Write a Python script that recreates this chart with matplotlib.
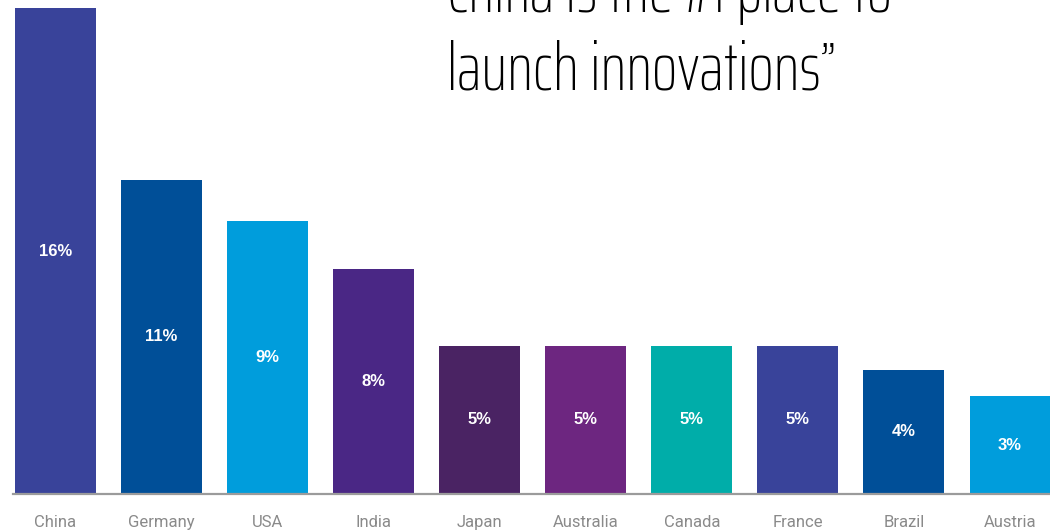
import matplotlib
matplotlib.use("Agg")
import matplotlib.pyplot as plt

countries = ["China", "Germany", "USA", "India", "Japan", "Australia",
             "Canada", "France", "Brazil", "Austria"]
shares = [16.4, 10.6, 9.2, 7.6, 5.0, 5.0, 5.0, 5.0, 4.2, 3.3]
colors = ["#39439A", "#004F98", "#009DDC", "#4A2785", "#4A2363", "#6D2680",
          "#00ADA9", "#39439A", "#004F98", "#009DDC"]
title_lines = ["China is the #1 place to", "launch innovations\u201d"]

W, H = 1050, 531
fig = plt.figure(figsize=(W / 100, H / 100), dpi=100)
fig.patch.set_facecolor("white")

left_px, base_px = 13, 494
ax = fig.add_axes([left_px / W, 1 - base_px / H, 1037 / W, base_px / H])
x = list(range(len(countries)))
bars = ax.bar(x, shares, width=0.764, color=colors, zorder=2)
ax.set_xlim(-0.4007, 9.377)
ax.set_ylim(0, 16.4 * 494 / 486)

for rect, v in zip(bars, shares):
    ax.text(rect.get_x() + rect.get_width() / 2, v / 2, f"{round(v):.0f}%",
            ha="center", va="center", color="white", fontsize=12,
            fontweight="bold", family=["Liberation Sans", "DejaVu Sans"], zorder=3)

ax.set_xticks(x)
ax.set_xticklabels(countries, fontsize=12, color="#8A8A8A",
                   family=["Roboto", "DejaVu Sans"])
ax.tick_params(axis="x", length=0, pad=15)
ax.set_yticks([])
for s in ["top", "right", "left"]:
    ax.spines[s].set_visible(False)
ax.spines["bottom"].set_color("#9B9B9B")
ax.spines["bottom"].set_linewidth(1.6)
ax.spines["bottom"].set_zorder(4)
ax.set_facecolor("none")

tfont = dict(family=["Saira ExtraCondensed", "IBM Plex Sans Condensed", "DejaVu Sans"],
             fontweight=250, fontsize=48, color="black")
fig.text(447 / W, 1 - 12 / H, title_lines[0], ha="left", va="baseline", **tfont)
fig.text(447 / W, 1 - 90 / H, title_lines[1], ha="left", va="baseline", **tfont)

fig.savefig("out.png", dpi=100, facecolor="white")
